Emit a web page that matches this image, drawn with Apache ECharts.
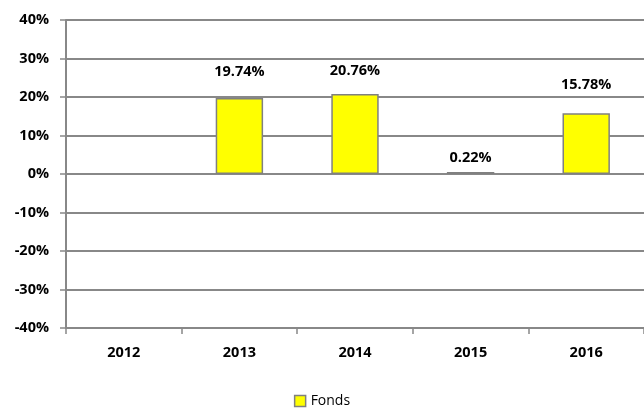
<!DOCTYPE html>
<html>
<head>
<meta charset="utf-8">
<script src="https://cdn.jsdelivr.net/npm/echarts@6/dist/echarts.min.js"></script>
<style>
  html, body { margin: 0; padding: 0; background: #fff; }
  #chart { width: 644px; height: 410px; }
</style>
</head>
<body>
<div id="chart"></div>
<script>
const years = ['2012', '2013', '2014', '2015', '2016']
const fonds = [null, 19.74, 20.76, 0.22, 15.78]
// label distances above the bar (Excel placed them unevenly)
const labelGap = [0, 19, 16, 7, 21]

const chart = echarts.init(document.getElementById('chart'))
const FONT = '"Open Sans", "Liberation Sans", sans-serif'

chart.setOption({
  animation: false,
  grid: { left: 66, right: -2, top: 20, bottom: 82 },
  legend: {
    bottom: -3,
    left: 'center',
    itemWidth: 11,
    itemHeight: 11,
    itemGap: 4,
    textStyle: { fontFamily: FONT, fontSize: 14, color: '#000' },
    data: [{ name: 'Fonds', icon: 'rect', itemStyle: { color: '#ffff00', borderColor: '#808080', borderWidth: 1.5 } }]
  },
  xAxis: [
    {
      type: 'category',
      data: years,
      position: 'bottom',
      axisLine: { show: false },
      axisTick: { show: false },
      axisLabel: { fontFamily: FONT, fontWeight: 'bold', fontSize: 14.5, color: '#000', margin: 17 }
    },
    {
      type: 'category',
      data: years,
      position: 'bottom',
      axisLine: { onZero: true, lineStyle: { color: '#888', width: 2 } },
      axisTick: { show: true, length: 6, inside: false, lineStyle: { color: '#888', width: 1.5 } },
      axisLabel: { show: false }
    }
  ],
  yAxis: {
    type: 'value',
    min: -40,
    max: 40,
    interval: 10,
    axisLine: { show: true, lineStyle: { color: '#888', width: 2 } },
    axisTick: { show: true, length: 6, lineStyle: { color: '#888', width: 1.5 } },
    splitLine: { lineStyle: { color: '#888', width: 2 } },
    axisLabel: {
      fontFamily: FONT, fontWeight: 'bold', fontSize: 14.5, color: '#000', margin: 17,
      formatter: v => v + '%'
    }
  },
  series: [{
    name: 'Fonds',
    type: 'bar',
    xAxisIndex: 1,
    barWidth: '41%',
    barMinHeight: 2,
    data: fonds.map((v, i) => ({
      value: v,
      label: { distance: labelGap[i] }
    })),
    itemStyle: { color: '#ffff00', borderColor: '#808080', borderWidth: 1.5 },
    label: {
      show: true,
      position: 'top',
      fontFamily: FONT,
      fontWeight: 'bold',
      fontSize: 14.5,
      color: '#000',
      formatter: p => p.value == null ? '' : p.value.toFixed(2) + '%'
    }
  }]
})
</script>
</body>
</html>
